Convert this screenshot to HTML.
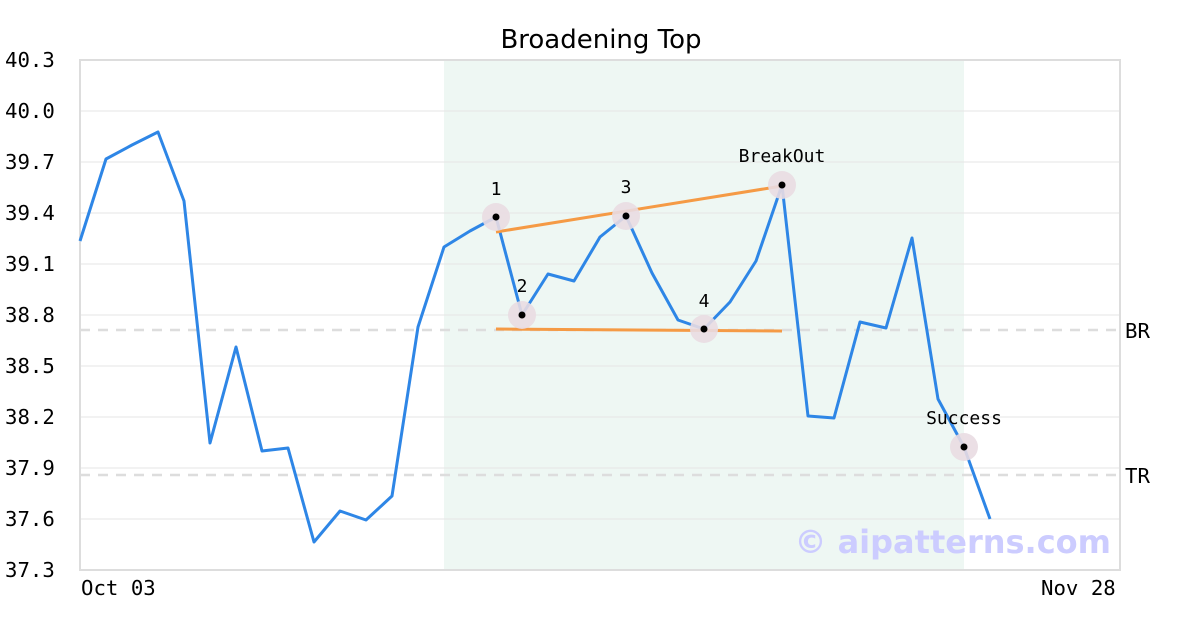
<!DOCTYPE html>
<html><head><meta charset="utf-8"><style>
html,body{margin:0;padding:0;background:#fff;}
svg{display:block;}
.m{font-family:"DejaVu Sans Mono","Liberation Mono",monospace;}
</style></head><body>
<svg width="1200" height="630" xmlns="http://www.w3.org/2000/svg">
<rect x="444" y="60" width="520" height="510" fill="#eef7f3"/>
<g stroke="#e6e6e6" stroke-width="1">
<line x1="80" x2="1120" y1="111" y2="111"/><line x1="80" x2="1120" y1="162" y2="162"/>
<line x1="80" x2="1120" y1="213" y2="213"/><line x1="80" x2="1120" y1="264" y2="264"/>
<line x1="80" x2="1120" y1="315" y2="315"/><line x1="80" x2="1120" y1="366" y2="366"/>
<line x1="80" x2="1120" y1="417" y2="417"/><line x1="80" x2="1120" y1="468" y2="468"/>
<line x1="80" x2="1120" y1="519" y2="519"/>
</g>
<g stroke="#dddddd" stroke-width="2.5" stroke-dasharray="10,8">
<line x1="80" x2="1120" y1="330" y2="330"/><line x1="80" x2="1120" y1="475" y2="475"/>
</g>
<rect x="80" y="60" width="1040" height="510" fill="none" stroke="#dddddd" stroke-width="2"/>
<text x="601" y="48" text-anchor="middle" font-family="DejaVu Sans,Liberation Sans,sans-serif" font-size="26">Broadening Top</text>
<g class="m" font-size="20.7" fill="#000">
<text x="5" y="67">40.3</text><text x="5" y="118">40.0</text><text x="5" y="169">39.7</text>
<text x="5" y="220">39.4</text><text x="5" y="271">39.1</text><text x="5" y="322">38.8</text>
<text x="5" y="373">38.5</text><text x="5" y="424">38.2</text><text x="5" y="475">37.9</text>
<text x="5" y="526">37.6</text><text x="5" y="577">37.3</text>
<text x="81" y="595">Oct 03</text><text x="1041" y="595">Nov 28</text>
<text x="1125" y="338">BR</text><text x="1125" y="483">TR</text>
</g>
<text x="1111" y="553" text-anchor="end" font-family="DejaVu Sans,Liberation Sans,sans-serif" font-size="32" font-weight="bold" fill="#ccccff">© aipatterns.com</text>
<polyline fill="none" stroke="#2e86e6" stroke-width="3" stroke-linejoin="round" points="80,241 106,159 132,145 158,132 184,201 210,443 236,347 262,451 288,448 314,542 340,511 366,520 392,496 418,327 444,247 470,231 496,217 522,315 548,274 574,281 600,237 626,216 652,273 678,320 704,329 730,302 756,261 782,185 808,416 834,418 860,322 886,328 912,238 938,399 964,447 990,519"/>
<g stroke="#f59a45" stroke-width="3">
<line x1="496" y1="232" x2="782" y2="186"/><line x1="496" y1="329" x2="782" y2="331"/>
</g>
<g fill="#e9dce2" fill-opacity="0.9">
<circle cx="496" cy="217" r="14"/><circle cx="522" cy="315" r="14"/><circle cx="626" cy="216" r="14"/>
<circle cx="704" cy="329" r="14"/><circle cx="782" cy="185" r="14"/><circle cx="964" cy="447" r="14"/>
</g>
<g fill="#000">
<circle cx="496" cy="217" r="3.5"/><circle cx="522" cy="315" r="3.5"/><circle cx="626" cy="216" r="3.5"/>
<circle cx="704" cy="329" r="3.5"/><circle cx="782" cy="185" r="3.5"/><circle cx="964" cy="447" r="3.5"/>
</g>
<g class="m" font-size="18" text-anchor="middle" fill="#000">
<text x="496" y="195">1</text><text x="522" y="292">2</text><text x="626" y="193">3</text>
<text x="704" y="307">4</text><text x="782" y="162">BreakOut</text><text x="964" y="424">Success</text>
</g>
</svg>
</body></html>
